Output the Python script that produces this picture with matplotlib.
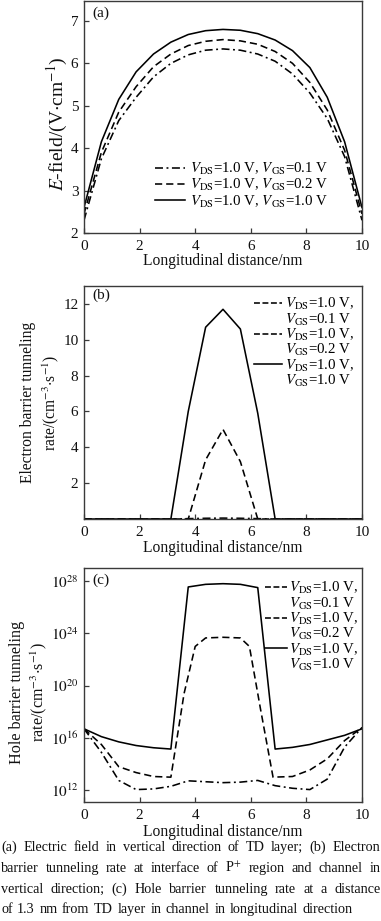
import numpy as np
import matplotlib
matplotlib.use("Agg")
import matplotlib.pyplot as plt
from matplotlib.lines import Line2D
from matplotlib.ticker import FixedLocator, FixedFormatter, NullLocator

plt.rcParams['font.family'] = ['Liberation Serif', 'DejaVu Serif']
plt.rcParams['mathtext.fontset'] = 'stix'

# ---------------- data ----------------
x_grid = [0, 0.625, 1.25, 1.875, 2.5, 3.125, 3.75, 4.375, 5.0, 5.625, 6.25, 6.875, 7.5, 8.125, 8.75, 9.375, 10]

# (a) E-field
efield_vgs01 = [2.3, 3.75, 4.65, 5.2, 5.68, 6.0, 6.2, 6.31, 6.34, 6.31, 6.22, 6.05, 5.75, 5.3, 4.7, 3.8, 2.3]
efield_vgs02 = [2.45, 3.9, 4.85, 5.45, 5.92, 6.22, 6.42, 6.52, 6.56, 6.53, 6.45, 6.28, 6.0, 5.55, 4.9, 3.95, 2.45]
efield_vgs10 = [2.6, 4.15, 5.15, 5.8, 6.22, 6.5, 6.68, 6.77, 6.8, 6.78, 6.7, 6.55, 6.3, 5.9, 5.2, 4.15, 2.6]

# (b) electron barrier tunneling rate
etun_vgs01 = [0, 0, 0, 0, 0, 0, 0.02, 0.04, 0.05, 0.04, 0.02, 0, 0, 0, 0, 0, 0]
etun_vgs02 = [0, 0, 0, 0, 0, 0, 0, 3.3, 5.0, 3.2, 0, 0, 0, 0, 0, 0, 0]
etun_vgs10 = [0, 0, 0, 0, 0, 0, 6.0, 10.7, 11.7, 10.6, 5.9, 0, 0, 0, 0, 0, 0]

# (c) hole barrier tunneling rate (log10 of value)
htun_vgs01_exp = [16.7, 14.9, 12.75, 12.05, 12.1, 12.3, 12.72, 12.65, 12.58, 12.62, 12.75, 12.35, 12.15, 12.05, 12.85, 15.3, 16.8]
x_htun_vgs02 = [0, 0.625, 1.25, 1.875, 2.5, 3.125, 3.6, 4.0, 4.375, 5.0, 5.625, 5.95, 6.35, 6.8, 7.5, 8.125, 8.75, 9.375, 10]
htun_vgs02_exp = [16.7, 15.5, 13.8, 13.35, 13.05, 13.0, 19.4, 23.0, 23.65, 23.7, 23.65, 23.0, 18.2, 13.0, 13.05, 13.55, 14.4, 15.8, 16.8]
htun_vgs10_exp = [16.7, 16.1, 15.7, 15.42, 15.25, 15.15, 27.55, 27.75, 27.8, 27.75, 27.5, 15.15, 15.28, 15.5, 15.85, 16.2, 16.7]

labels_oneline = [r"$V_{\mathrm{DS}}$=1.0 V, $V_{\mathrm{GS}}$=0.1 V",
                  r"$V_{\mathrm{DS}}$=1.0 V, $V_{\mathrm{GS}}$=0.2 V",
                  r"$V_{\mathrm{DS}}$=1.0 V, $V_{\mathrm{GS}}$=1.0 V"]
labels_first = [r"$V_{\mathrm{DS}}$=1.0 V,"] * 3
labels_second = [r"$V_{\mathrm{GS}}$=0.1 V", r"$V_{\mathrm{GS}}$=0.2 V", r"$V_{\mathrm{GS}}$=1.0 V"]

xticks = [0, 2, 4, 6, 8, 10]
xlabel = "Longitudinal distance/nm"

caption_lines = [
    "(a) Electric field in vertical direction of TD layer; (b) Electron",
    "barrier tunneling rate at interface of P$^{+}$ region and channel in",
    "vertical direction; (c) Hole barrier tunneling rate at a distance",
    "of 1.3 nm from TD layer in channel in longitudinal direction",
]

# ---------------- styles ----------------
DASHDOT = (0, (5, 2.2, 1.2, 2.2))
DASHED = (0, (4.5, 2.5))
styles = [dict(ls=DASHDOT), dict(ls=DASHED), dict(ls='-')]
LW = 1.15
FS = 11
LFS = 11.2
SPINE = '#3a3a3a'
TXT = '#111111'

W, H = 381, 921
fig = plt.figure(figsize=(W / 100, H / 100), dpi=100)


def axes_px(left, top, right, bottom):
    return fig.add_axes([left / W, 1 - bottom / H, (right - left) / W, (bottom - top) / H])


def style_axes(ax):
    for s in ax.spines.values():
        s.set_color(SPINE)
        s.set_linewidth(1.0)
    ax.tick_params(direction='in', length=3.5, width=0.9, colors=SPINE,
                   labelcolor=TXT, labelsize=FS, pad=4,
                   top=False, right=False)
    ax.tick_params(axis='x', pad=5)
    ax.set_xlim(0, 10)
    ax.xaxis.set_major_locator(FixedLocator(xticks))
    ax.set_xlabel(xlabel, fontsize=LFS, color=TXT)


ax_a = axes_px(84, 1, 362, 233)
ax_b = axes_px(84, 286, 362, 519)
ax_c = axes_px(84, 568, 362, 802)

# (a)
for y, st, lab in zip([efield_vgs01, efield_vgs02, efield_vgs10], styles, labels_oneline):
    ax_a.plot(x_grid, y, color='black', lw=LW, label=lab, **st)
ax_a.set_ylim(2, 7.47)
ax_a.set_yticks([2, 3, 4, 5, 6, 7])
style_axes(ax_a)
ax_a.set_ylabel(r"$E$-field/(V$\cdot$cm$^{-1}$)", fontsize=14, color=TXT)
ax_a.yaxis.label.set_va('center')
ax_a.yaxis.set_label_coords(-0.095, 0.47)
ax_a.xaxis.set_label_coords(0.5, -0.088)
ax_a.text(0.03, 0.975, "(a)", transform=ax_a.transAxes, fontsize=FS, va='top', ha='left', color=TXT)
ax_a.legend(loc='center left', bbox_to_anchor=(0.255, 0.205), frameon=False,
            fontsize=10.7, handlelength=2.0, handletextpad=0.35, labelspacing=0.0,
            borderpad=0, borderaxespad=0)


def two_line_legend(ax, series_lines, anchor, hl):
    handles, labs = [], []
    for ln, l1, l2 in zip(series_lines, labels_first, labels_second):
        handles.append(Line2D([], [], color='black', lw=LW, ls=ln.get_linestyle()))
        labs.append(l1)
        handles.append(Line2D([], [], color='none', lw=0))
        labs.append(l2)
    ax.legend(handles, labs, loc='center left', bbox_to_anchor=anchor, frameon=False,
              fontsize=10.7, handlelength=hl, handletextpad=0.2, labelspacing=-0.05,
              borderpad=0, borderaxespad=0)


# (b)
lines_b = []
for y, st in zip([etun_vgs01, etun_vgs02, etun_vgs10], styles):
    ln, = ax_b.plot(x_grid, y, color='black', lw=LW, **st)
    lines_b.append(ln)
ax_b.set_ylim(0, 13)
ax_b.set_yticks([2, 4, 6, 8, 10, 12])
style_axes(ax_b)
ax_b.set_ylabel("Electron barrier tunneling\nrate/(cm$^{-3}$$\\cdot$s$^{-1}$)", fontsize=LFS,
                ma='center', linespacing=1.3, color=TXT)
ax_b.yaxis.label.set_va('center')
ax_b.yaxis.set_label_coords(-0.156, 0.5)
ax_b.xaxis.set_label_coords(0.5, -0.088)
ax_b.text(0.03, 0.99, "(b)", transform=ax_b.transAxes, fontsize=FS, va='top', ha='left', color=TXT)
two_line_legend(ax_b, lines_b, (0.612, 0.757), 1.9)

# (c)
lines_c = []
for xx, yexp, st in zip([x_grid, x_htun_vgs02, x_grid],
                        [htun_vgs01_exp, htun_vgs02_exp, htun_vgs10_exp], styles):
    ln, = ax_c.plot(xx, np.power(10.0, yexp), color='black', lw=LW, **st)
    lines_c.append(ln)
ax_c.set_yscale('log')
ax_c.set_ylim(10.0 ** 11.1, 10.0 ** 29)
ytk_c = [1e12, 1e16, 1e20, 1e24, 1e28]
ax_c.yaxis.set_major_locator(FixedLocator(ytk_c))
ax_c.yaxis.set_major_formatter(FixedFormatter([r"$10^{12}$", r"$10^{16}$", r"$10^{20}$",
                                               r"$10^{24}$", r"$10^{28}$"]))
ax_c.yaxis.set_minor_locator(NullLocator())
style_axes(ax_c)
ax_c.set_ylabel("Hole barrier tunneling\nrate/(cm$^{-3}$$\\cdot$s$^{-1}$)", fontsize=11.6,
                ma='center', linespacing=1.2, color=TXT)
ax_c.yaxis.label.set_va('center')
ax_c.yaxis.set_label_coords(-0.198, 0.47)
ax_c.xaxis.set_label_coords(0.5, -0.095)
ax_c.text(0.03, 0.975, "(c)", transform=ax_c.transAxes, fontsize=FS, va='top', ha='left', color=TXT)
two_line_legend(ax_c, lines_c, (0.651, 0.75), 1.45)

# ---------------- caption (justified) ----------------
fig.canvas.draw()
renderer = fig.canvas.get_renderer()
CAP_FS = 10.2
cap_left, cap_right = 1.0, 380.5
cap_base = [851, 872, 893, 913]
for i, (line, yb) in enumerate(zip(caption_lines, cap_base)):
    words = line.split(' ')
    widths = []
    for w in words:
        t = fig.text(0, 0, w, fontsize=CAP_FS)
        bb = t.get_window_extent(renderer)
        widths.append(bb.width)
        t.remove()
    if i < len(caption_lines) - 1:
        gap = (cap_right - cap_left - sum(widths)) / (len(words) - 1)
    else:
        gap = (353 - cap_left - sum(widths)) / (len(words) - 1)
    xcur = cap_left
    for w, wd in zip(words, widths):
        fig.text(xcur / W, 1 - yb / H, w, fontsize=CAP_FS, va='baseline', ha='left',
                 color=TXT)
        xcur += wd + gap

fig.savefig("out.png", dpi=100)
